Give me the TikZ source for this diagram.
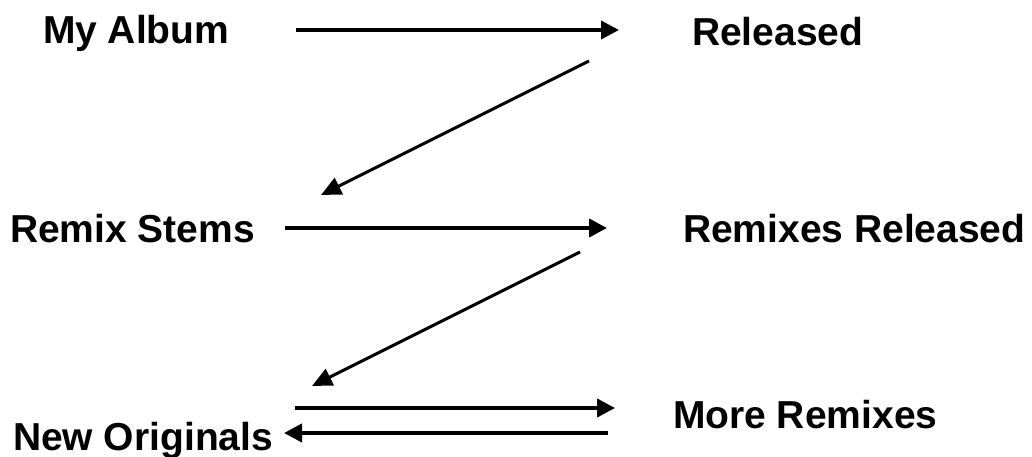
\documentclass[tikz,border=0pt]{standalone}
\usepackage{fontspec}
\setmainfont{Liberation Sans}
\usetikzlibrary{arrows.meta}
\begin{document}
\begin{tikzpicture}[x=1pt,y=-1pt,
  label/.style={anchor=base west,inner sep=0pt,outer sep=0pt,
    font=\fontsize{39}{39}\selectfont\bfseries},
  flow/.style={line width=4pt,-{Triangle[length=18pt,width=18pt]}},
  back/.style={line width=3pt,-{Triangle[length=20pt,width=18pt]}}]
\useasboundingbox (0,0) rectangle (1032,457);
% stage labels
\node[label] (album)    at (43,44)  {My Album};
\node[label] (released) at (692,46) {Released};
\node[label] (stems)    at (10,242) {Remix Stems};
\node[label] (remixes)  at (683,242) {Remixes Released};
\node[label] (more)     at (673,428) {More Remixes};
\node[label] (orig)     at (13,450) {New Originals};
% arrow end points
\coordinate (a1s) at (296,30);  \coordinate (a1e) at (619,30);
\coordinate (d1s) at (589,61);  \coordinate (d1e) at (321,195);
\coordinate (a2s) at (285,228); \coordinate (a2e) at (607,228);
\coordinate (d2s) at (580,252); \coordinate (d2e) at (312,386);
\coordinate (a3s) at (295,408); \coordinate (a3e) at (615,408);
\coordinate (a4s) at (608,433); \coordinate (a4e) at (284,433);
% connectors
\draw[flow] (a1s) -- (a1e);
\draw[back] (d1s) -- (d1e);
\draw[flow] (a2s) -- (a2e);
\draw[back] (d2s) -- (d2e);
\draw[flow] (a3s) -- (a3e);
\draw[flow] (a4s) -- (a4e);
\end{tikzpicture}
\end{document}
